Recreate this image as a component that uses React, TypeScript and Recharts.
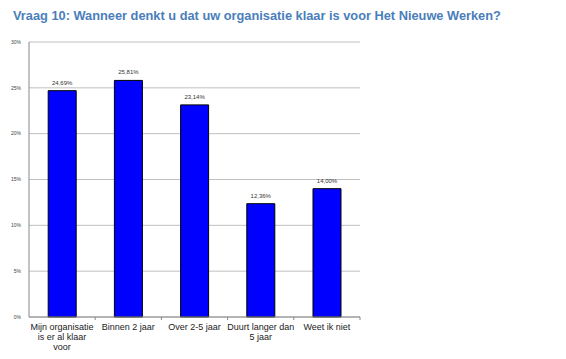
import React from 'react';
import { BarChart, Bar, XAxis, YAxis, CartesianGrid, LabelList } from 'recharts';

const categories = ['Mijn organisatie\nis er al klaar\nvoor', 'Binnen 2 jaar', 'Over 2-5 jaar', 'Duurt langer dan\n5 jaar', 'Weet ik niet'];
const percentages = [24.69, 25.81, 23.14, 12.36, 14.0];
const yTicks = [0, 5, 10, 15, 20, 25, 30];

const data = categories.map((c, i) => ({ name: c, value: percentages[i] }));

const fmt = (v: number) => `${v.toFixed(2).replace('.', ',')}%`;

const CategoryTick = (props: any) => {
    const { x, y, payload, index, visibleTicksCount } = props;
    const off = payload.offset || 0;
    const lines = String(payload.value).split('\n');
    return (
        <g>
            {index > 0 && <line x1={x - off} x2={x - off} y1={y - 8} y2={y - 5} stroke="#888" />}
            {index === visibleTicksCount - 1 && <line x1={x + off} x2={x + off} y1={y - 8} y2={y - 5} stroke="#888" />}
            <text x={x} y={y} textAnchor="middle" fontSize={9} fill="#222" fontFamily="Liberation Sans, Arial, sans-serif">
                {lines.map((l, i) => (
                    <tspan key={i} x={x} dy={i === 0 ? 5 : 10}>{l}</tspan>
                ))}
            </text>
        </g>
    );
};

export default function App() {
    return (
        <div style={{ position: 'absolute', left: 0, top: 0, width: 566, height: 359, background: '#fff' }}>
            <div style={{
                position: 'absolute', left: 13, top: 8, fontFamily: 'Liberation Sans, Arial, sans-serif',
                fontWeight: 'bold', fontSize: 12.8, color: '#4a7ebb', whiteSpace: 'nowrap'
            }}>
                Vraag 10: Wanneer denkt u dat uw organisatie klaar is voor Het Nieuwe Werken?
            </div>
            <div style={{ position: 'absolute', left: 0, top: 0 }}>
                <BarChart width={566} height={359} data={data} margin={{ top: 42, right: 206, bottom: 12, left: 9 }} barCategoryGap="29%">
                    <CartesianGrid vertical={false} stroke="#c0c0c0" />
                    <XAxis
                        dataKey="name"
                        height={30}
                        interval={0}
                        tickLine={false}
                        stroke="#888"
                        tick={<CategoryTick />}
                    />
                    <YAxis
                        width={20}
                        domain={[0, 30]}
                        ticks={yTicks}
                        tickFormatter={(v: number) => `${v}%`}
                        tickLine={false}
                        stroke="#888"
                        tick={{ fontSize: 5, fill: '#444', fontFamily: 'Liberation Sans, Arial, sans-serif' }}
                    />
                    <Bar dataKey="value" fill="#0000ff" stroke="#000" strokeWidth={1} isAnimationActive={false}>
                        <LabelList
                            dataKey="value"
                            position="top"
                            offset={6}
                            formatter={(v: any) => fmt(Number(v))}
                            style={{ fontSize: 6, fill: '#333', fontFamily: 'Liberation Sans, Arial, sans-serif' }}
                        />
                    </Bar>
                </BarChart>
            </div>
        </div>
    );
}
